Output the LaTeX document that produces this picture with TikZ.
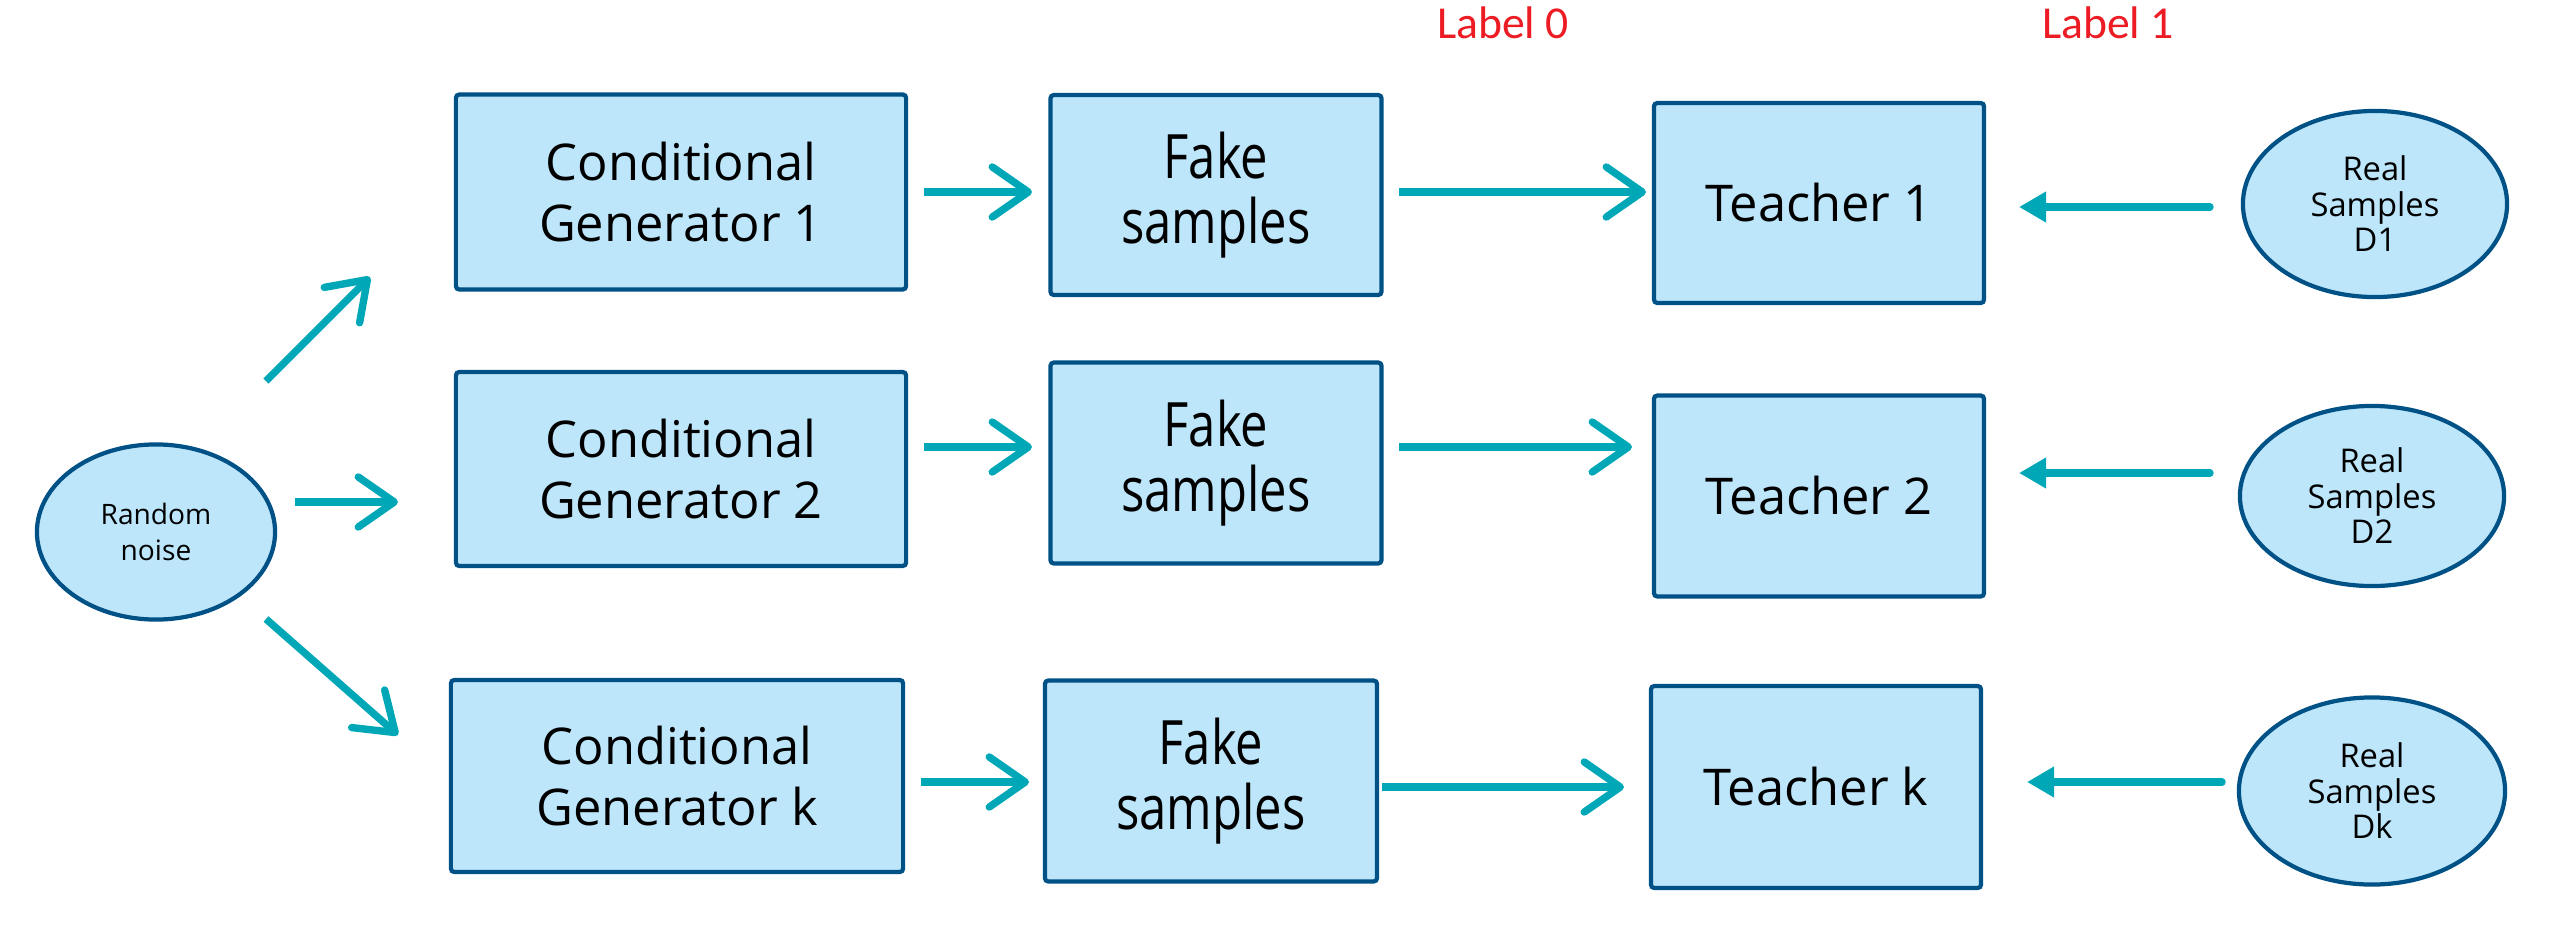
\documentclass[tikz,border=0pt]{standalone}
\usepackage{fontspec}
\setmainfont{Open Sans}
\newfontfamily\carl{Carlito}
\newfontfamily\narrowfont[FakeStretch=0.8]{Open Sans}
\usetikzlibrary{arrows.meta,shapes.geometric}
\definecolor{boxfill}{RGB}{189,230,251}
\definecolor{boxline}{RGB}{0,82,134}
\definecolor{arrowc}{RGB}{0,168,183}
\definecolor{labred}{RGB}{237,28,36}
\begin{document}
\begin{tikzpicture}[x=0.01cm,y=-0.01cm,
  box/.style={draw=boxline, fill=boxfill, line width=1.2pt, rounded corners=1pt,
    align=center, inner sep=0pt, font=\fontsize{14.4}{17.6}\selectfont},
  fakebox/.style={box, font=\narrowfont\fontsize{17.4}{18.5}\selectfont},
  oval/.style={ellipse, draw=boxline, fill=boxfill, line width=1.2pt,
    align=center, inner sep=0pt, font=\fontsize{8}{10.3}\selectfont},
  realoval/.style={oval, font=\fontsize{9.3}{10.1}\selectfont},
  arr/.style={draw=arrowc, line width=2.1pt,
    -{Straight Barb[length=0.36cm, width=0.5cm, round]}},
  rarr/.style={draw=arrowc, line width=2.1pt, line cap=round,
    -{Triangle[length=0.27cm, width=0.29cm]}},
  lab/.style={text=labred, font=\carl\fontsize{13}{15}\selectfont}
]
\useasboundingbox (0,0) rectangle (2556,942);

% nodes
\node[oval, minimum width=2.38cm, minimum height=1.75cm] (noise) at (156,532) {Random\\noise};

\node[box, minimum width=4.5cm, minimum height=1.95cm] (gen1) at (681,192) {Conditional\\Generator 1};
\node[box, minimum width=4.5cm, minimum height=1.94cm] (gen2) at (681,469) {Conditional\\Generator 2};
\node[box, minimum width=4.52cm, minimum height=1.92cm] (genk) at (677,776) {Conditional\\Generator k};

\node[fakebox, minimum width=3.31cm, minimum height=2.0cm] (fake1) at (1216,195) {Fake\\samples};
\node[fakebox, minimum width=3.31cm, minimum height=2.01cm] (fake2) at (1216,463) {Fake\\samples};
\node[fakebox, minimum width=3.32cm, minimum height=2.01cm] (fakek) at (1211,781) {Fake\\samples};

\node[box, minimum width=3.3cm, minimum height=2.0cm] (t1) at (1819,203) {Teacher 1};
\node[box, minimum width=3.3cm, minimum height=2.01cm] (t2) at (1819,496) {Teacher 2};
\node[box, minimum width=3.3cm, minimum height=2.02cm] (tk) at (1816,787) {Teacher k};

\node[realoval, minimum width=2.64cm, minimum height=1.86cm] (real1) at (2375,204) {Real\\Samples\\D1};
\node[realoval, minimum width=2.64cm, minimum height=1.80cm] (real2) at (2372,496) {Real\\Samples\\D2};
\node[realoval, minimum width=2.66cm, minimum height=1.87cm] (realk) at (2372,791) {Real\\Samples\\Dk};

\node[lab] (lab0) at (1503,23) {Label 0};
\node[lab] (lab1) at (2108,23) {Label 1};

% arrow end points
\coordinate (n1s) at (266,381); \coordinate (n1e) at (370,277);
\coordinate (n2s) at (295,502); \coordinate (n2e) at (398,502);
\coordinate (n3s) at (266,619); \coordinate (n3e) at (398,735);

\coordinate (g1s) at (924,192);  \coordinate (g1e) at (1032,192);
\coordinate (g2s) at (924,447);  \coordinate (g2e) at (1032,447);
\coordinate (gks) at (921,782);  \coordinate (gke) at (1029,782);

\coordinate (f1s) at (1399,192); \coordinate (f1e) at (1646,192);
\coordinate (f2s) at (1399,447); \coordinate (f2e) at (1632,447);
\coordinate (fks) at (1382,787); \coordinate (fke) at (1624,787);

\coordinate (r1s) at (2210,207); \coordinate (r1e) at (2019,207);
\coordinate (r2s) at (2210,473); \coordinate (r2e) at (2019,473);
\coordinate (rks) at (2222,782); \coordinate (rke) at (2027,782);

% connectors
\draw[arr] (n1s) -- (n1e);
\draw[arr] (n2s) -- (n2e);
\draw[arr] (n3s) -- (n3e);
\draw[arr] (g1s) -- (g1e);
\draw[arr] (g2s) -- (g2e);
\draw[arr] (gks) -- (gke);
\draw[arr] (f1s) -- (f1e);
\draw[arr] (f2s) -- (f2e);
\draw[arr] (fks) -- (fke);
\draw[rarr] (r1s) -- (r1e);
\draw[rarr] (r2s) -- (r2e);
\draw[rarr] (rks) -- (rke);
\end{tikzpicture}
\end{document}
